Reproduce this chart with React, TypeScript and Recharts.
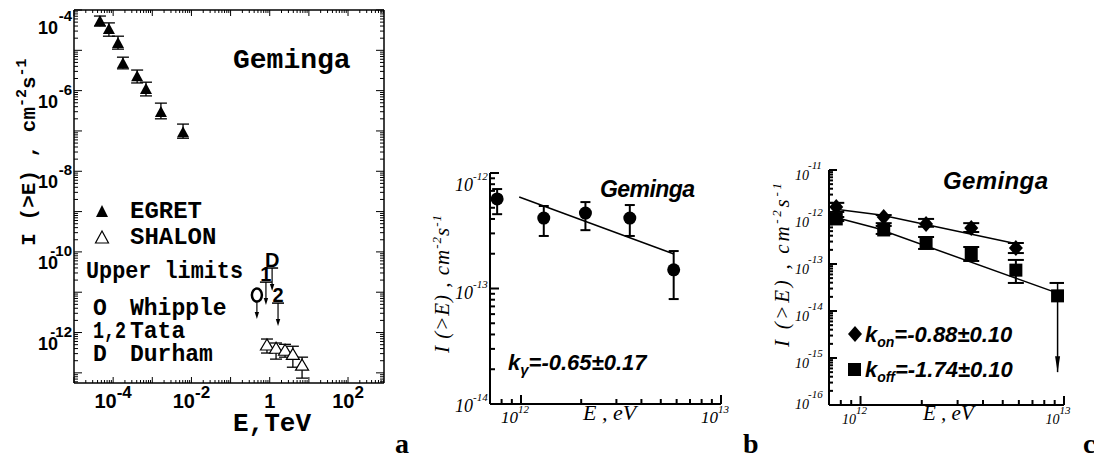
import React from "react";
import { ComposedChart, Scatter, XAxis, YAxis, ErrorBar } from "recharts";

// ---------- panel a (E in TeV) ----------
const egretE = [4.6e-5, 7.8e-5, 1.33e-4, 1.78e-4, 4.1e-4, 6.9e-4, 1.66e-3, 6.1e-3];
const egretI = [5.37e-5, 3.39e-5, 1.51e-5, 4.79e-6, 2.29e-6, 1.1e-6, 2.95e-7, 9.33e-8];
const egretHi = [7.08e-5, 4.79e-5, 2.24e-5, 6.76e-6, 3.24e-6, 1.62e-6, 4.9e-7, 1.48e-7];
const egretLo = [3.98e-5, 2.24e-5, 1.07e-5, 3.47e-6, 1.55e-6, 7.4e-7, 2.0e-7, 6.6e-8];

const shalonE = [0.85, 1.45, 2.46, 3.9, 6.7];
const shalonI = [4.9e-13, 4.07e-13, 3.63e-13, 2.88e-13, 1.55e-13];
const shalonHi = [6.9e-13, 5.5e-13, 5.1e-13, 4.57e-13, 2.45e-13];
const shalonLo = [3.1e-13, 2.19e-13, 2.45e-13, 1.38e-13, 7.4e-14];

const limitTags = ["O", "1", "D", "2"];
const limitE = [0.47, 0.8, 1.15, 1.63];
const limitI = [8.5e-12, 1.78e-11, 3.98e-11, 5.37e-12];

const aXDomain = [1e-5, 830];
const aYDomain = [5.6e-14, 1e-4];
const aXLabelled = [-4, -2, 0, 2];
const aYLabelled = [-4, -6, -8, -10, -12];

// ---------- panel b (E in eV) ----------
const bE = [7.6e11, 1.3e12, 2.1e12, 3.5e12, 5.8e12];
const bI = [5.96e-13, 4.07e-13, 4.5e-13, 4.07e-13, 1.45e-13];
const bHi = [7.26e-13, 5.18e-13, 5.6e-13, 5.28e-13, 2.11e-13];
const bLo = [4.4e-13, 2.85e-13, 3.2e-13, 2.85e-13, 8.1e-14];
const bFitE = [9.8e11, 5.77e12];
const bFitI = [6.2e-13, 2.0e-13];

const bXDomain = [7e11, 1e13];
const bYDomain = [1e-14, 1e-12];

// ---------- panel c ----------
const onE = [7.6e11, 1.3e12, 2.1e12, 3.5e12, 5.8e12];
const onI = [1.63e-12, 1.0e-12, 7.1e-13, 5.8e-13, 2.19e-13];
const onHi = [2.0e-12, 1.1e-12, 9.1e-13, 7.4e-13, 2.8e-13];
const onLo = [1.28e-12, 7.4e-13, 6.2e-13, 4.8e-13, 1.71e-13];

const offE = [7.6e11, 1.3e12, 2.1e12, 3.5e12, 5.8e12];
const offI = [9.1e-13, 5.3e-13, 2.8e-13, 1.63e-13, 7.4e-14];
const offHi = [1.0e-12, 6.45e-13, 3.75e-13, 2.3e-13, 1.22e-13];
const offLo = [8.2e-13, 4.36e-13, 2.09e-13, 1.16e-13, 3.95e-14];

const offLimitE = 9.3e12;
const offLimitI = 2.1e-14;
const offLimitCap = 3.95e-14;
const offLimitTip = 5e-16;

const onFitE = [7.4e11, 1.26e12, 5.6e12];
const onFitI = [1.48e-12, 1.1e-12, 2.8e-13];
const offFitE = [7.4e11, 1.19e12, 9.3e12];
const offFitI = [1.0e-12, 5.83e-13, 2.4e-14];

const cXDomain = [7e11, 1e13];
const cYDomain = [1e-16, 1e-11];

// ---------- helpers ----------
const withErr = (E: number[], I: number[], hi: number[], lo: number[]) =>
  E.map((e, i) => ({ E: e, I: I[i], err: [I[i] - lo[i], hi[i] - I[i]] }));
const pairs = (E: number[], I: number[]) => E.map((e, i) => ({ E: e, I: I[i] }));

const logTicks = (lo: number, hi: number) => {
  const out: number[] = [];
  for (let d = Math.floor(Math.log10(lo)); d <= Math.ceil(Math.log10(hi)); d++) {
    for (let m = 1; m <= 9; m++) {
      const v = m * Math.pow(10, d);
      if (v >= lo * 0.999 && v <= hi * 1.001) out.push(v);
    }
  }
  return out;
};
const isDecade = (v: number) => Math.abs(Math.log10(v) - Math.round(Math.log10(v))) < 1e-6;

type Side = "left" | "right" | "top" | "bottom";
type LabelFn = (e: number, x: number, y: number) => React.ReactNode;

const tickMark =
  (side: Side, major: number, minor: number, sw: number, label?: LabelFn) =>
  (p: any) => {
    const { x, y, payload } = p;
    const v = payload.value;
    const dec = isDecade(v);
    const len = dec ? major : minor;
    const dx = side === "left" ? len : side === "right" ? -len : 0;
    const dy = side === "bottom" ? -len : side === "top" ? len : 0;
    return (
      <g>
        <line x1={x} y1={y} x2={x + dx} y2={y + dy} stroke="#000" strokeWidth={sw} />
        {dec && label ? label(Math.round(Math.log10(v)), x, y) : null}
      </g>
    );
  };

const aXLabel: LabelFn = (e, x, y) =>
  aXLabelled.includes(e) ? (
    <text x={x} y={y + 25} textAnchor="middle" fontFamily="Liberation Sans" fontWeight="bold" fontSize={20} fill="#000">
      {e === 0 ? "1" : (
        <>
          10<tspan fontSize={17} dy={-10}>{`${e}`}</tspan>
        </>
      )}
    </text>
  ) : null;

const aYLabel: LabelFn = (e, x, y) => {
  if (!aYLabelled.includes(e)) return null;
  const s = e === -4 ? 7 : 0;
  return (
    <g fontFamily="Liberation Sans" fontWeight="bold" fill="#000">
      <text x={x - 36} y={y + 17 + s} fontSize={18}>10</text>
      <text x={x - 2} y={y + 4 + s} fontSize={15} textAnchor="end">{`${e}`}</text>
    </g>
  );
};

const serifX = (fs: number, fe: number): LabelFn => (e, x, y) => (
  <text x={x - 6} y={y + 19} textAnchor="middle" fontFamily="Liberation Serif" fontStyle="italic" fontSize={fs} fill="#000">
    10<tspan fontSize={fe} dy={-10}>{`${e}`}</tspan>
  </text>
);

const serifY =
  (fs: number, fe: number, x10: number, xExp: number, top: number, topShift: number, bottom: number, bottomShift: number): LabelFn =>
  (e, x, y) => {
    const s = e === top ? topShift : e === bottom ? bottomShift : 0;
    return (
      <g fontFamily="Liberation Serif" fontStyle="italic" fill="#000">
        <text x={x - x10} y={y + 10 + s} fontSize={fs}>10</text>
        <text x={x - xExp} y={y - 1 + s} fontSize={fe}>{`${e}`}</text>
      </g>
    );
  };

// ---------- shapes ----------
const TriFilled = (p: any) => (
  <polygon points={`${p.cx},${p.cy - 6} ${p.cx - 6},${p.cy + 5} ${p.cx + 6},${p.cy + 5}`} fill="#000" />
);
const TriOpen = (p: any) => (
  <polygon
    points={`${p.cx},${p.cy - 6} ${p.cx - 6.5},${p.cy + 5} ${p.cx + 6.5},${p.cy + 5}`}
    fill="#fff"
    stroke="#000"
    strokeWidth={1.2}
  />
);
const Dot = (p: any) => <circle cx={p.cx} cy={p.cy} r={6.5} fill="#000" />;
const Diamond = (p: any) => (
  <polygon points={`${p.cx},${p.cy - 8} ${p.cx + 7},${p.cy} ${p.cx},${p.cy + 8} ${p.cx - 7},${p.cy}`} fill="#000" />
);
const Square = (p: any) => <rect x={p.cx - 6.5} y={p.cy - 6.5} width={13} height={13} fill="#000" />;
const Nothing = () => <g />;

const arrowHead = (cx: number, tip: number, len: number, half: number) => (
  <path d={`M${cx - half},${tip - len} L${cx},${tip} L${cx + half},${tip - len} Z`} fill="#000" />
);

const LimitShape = (p: any) => {
  const { cx, cy, payload } = p;
  if (payload.tag === "O") {
    return (
      <g>
        <ellipse cx={cx} cy={cy} rx={5} ry={6.5} fill="none" stroke="#000" strokeWidth={2.5} />
        <line x1={cx} y1={cy + 7} x2={cx} y2={cy + 18} stroke="#000" strokeWidth={1.2} />
        {arrowHead(cx, cy + 24, 7, 2.2)}
      </g>
    );
  }
  return (
    <g>
      <text x={cx} y={cy - 1} textAnchor="middle" fontFamily="Liberation Sans" fontWeight="bold" fontSize={20} fill="#000">
        {payload.tag}
      </text>
      <line x1={cx - 6} y1={cy} x2={cx + 6} y2={cy} stroke="#000" strokeWidth={1.5} />
      <line x1={cx} y1={cy} x2={cx} y2={cy + 17} stroke="#000" strokeWidth={1.2} />
      {arrowHead(cx, cy + 23, 7, 2.2)}
    </g>
  );
};

const OffLimitShape = (p: any) => {
  const { cx, cy, payload } = p;
  if (payload.kind === "cap") {
    return <line x1={cx - 8} y1={cy} x2={cx + 8} y2={cy} stroke="#000" strokeWidth={2} />;
  }
  return arrowHead(cx, cy, 16, 2.5);
};

// ---------- data tables ----------
const egretData = withErr(egretE, egretI, egretHi, egretLo);
const shalonData = withErr(shalonE, shalonI, shalonHi, shalonLo);
const limitData = limitE.map((e, i) => ({ E: e, I: limitI[i], tag: limitTags[i] }));
const bData = withErr(bE, bI, bHi, bLo);
const bFit = pairs(bFitE, bFitI);
const onData = withErr(onE, onI, onHi, onLo);
const offData = withErr(offE, offI, offHi, offLo);
const onFit = pairs(onFitE, onFitI);
const offFit = pairs(offFitE, offFitI);
const offLimitPoint = [{ E: offLimitE, I: offLimitI }];
const offLimitArrow = [
  { E: offLimitE, I: offLimitCap, kind: "cap" },
  { E: offLimitE, I: offLimitTip, kind: "tip" },
];

const aXTicks = logTicks(aXDomain[0], aXDomain[1]);
const aYTicks = logTicks(aYDomain[0], aYDomain[1]);
const bXTicks = logTicks(bXDomain[0], bXDomain[1]);
const bYTicks = logTicks(bYDomain[0], bYDomain[1]);
const cXTicks = logTicks(cXDomain[0], cXDomain[1]);
const cYTicks = logTicks(cYDomain[0], cYDomain[1]);

const axisCommon = {
  type: "number" as const,
  scale: "log" as const,
  allowDataOverflow: true,
  interval: 0 as const,
  tickSize: 0,
  tickMargin: 0,
  tickLine: false,
};

function PanelA() {
  const axisLine = { stroke: "#000", strokeWidth: 1.5 };
  return (
    <ComposedChart width={400} height={440} margin={{ top: 2, right: 8, bottom: 0, left: 0 }}>
      <XAxis {...axisCommon} dataKey="E" domain={aXDomain} ticks={aXTicks} height={57} axisLine={axisLine}
        tick={tickMark("bottom", 6, 3, 1, aXLabel)} />
      <XAxis {...axisCommon} xAxisId="top" orientation="top" dataKey="E" domain={aXDomain} ticks={aXTicks} height={8}
        axisLine={axisLine} tick={tickMark("top", 6, 3, 1)} />
      <YAxis {...axisCommon} dataKey="I" domain={aYDomain} ticks={aYTicks} width={74} axisLine={axisLine}
        tick={tickMark("left", 8, 4, 1, aYLabel)} />
      <YAxis {...axisCommon} yAxisId="right" orientation="right" dataKey="I" domain={aYDomain} ticks={aYTicks} width={8}
        axisLine={axisLine} tick={tickMark("right", 8, 4, 1)} />
      {/* invisible series so the mirrored top / right axes of the frame are drawn */}
      <Scatter data={egretData} xAxisId="top" yAxisId="right" shape={Nothing} isAnimationActive={false} />
      <Scatter data={egretData} shape={TriFilled} isAnimationActive={false}>
        <ErrorBar dataKey="err" direction="y" width={6} stroke="#000" strokeWidth={1.3} isAnimationActive={false} />
      </Scatter>
      <Scatter data={shalonData} shape={TriOpen} isAnimationActive={false}>
        <ErrorBar dataKey="err" direction="y" width={6} stroke="#000" strokeWidth={1.3} isAnimationActive={false} />
      </Scatter>
      <Scatter data={limitData} shape={LimitShape} isAnimationActive={false} />
    </ComposedChart>
  );
}

function PanelB() {
  const axisLine = { stroke: "#000", strokeWidth: 2 };
  return (
    <ComposedChart width={310} height={290} margin={{ top: 23, right: 19, bottom: 0, left: 0 }}>
      <XAxis {...axisCommon} dataKey="E" domain={bXDomain} ticks={bXTicks} height={36} axisLine={axisLine}
        tick={tickMark("bottom", 9, 5, 2, serifX(17, 11))} />
      <YAxis {...axisCommon} dataKey="I" domain={bYDomain} ticks={bYTicks} width={60} axisLine={axisLine}
        tick={tickMark("left", 9, 5, 2, serifY(18, 11, 35, 17, -12, 8, -14, -2))} />
      <Scatter data={bFit} line={{ stroke: "#000", strokeWidth: 1.5 }} shape={Nothing} isAnimationActive={false} />
      <Scatter data={bData} shape={Dot} isAnimationActive={false}>
        <ErrorBar dataKey="err" direction="y" width={5} stroke="#000" strokeWidth={2} isAnimationActive={false} />
      </Scatter>
    </ComposedChart>
  );
}

function PanelC() {
  const axisLine = { stroke: "#000", strokeWidth: 2 };
  return (
    <ComposedChart width={310} height={290} margin={{ top: 20, right: 16, bottom: 0, left: 0 }}>
      <XAxis {...axisCommon} dataKey="E" domain={cXDomain} ticks={cXTicks} height={35} axisLine={axisLine}
        tick={tickMark("bottom", 9, 5, 2, serifX(14, 11))} />
      <YAxis {...axisCommon} dataKey="I" domain={cYDomain} ticks={cYTicks} width={59} axisLine={axisLine}
        tick={tickMark("left", 8, 4, 2, serifY(14, 11, 34, 21, -11, 0, -16, -6))} />
      <Scatter data={onFit} line={{ stroke: "#000", strokeWidth: 1.5 }} shape={Nothing} isAnimationActive={false} />
      <Scatter data={offFit} line={{ stroke: "#000", strokeWidth: 1.5 }} shape={Nothing} isAnimationActive={false} />
      <Scatter data={offLimitArrow} line={{ stroke: "#000", strokeWidth: 1.5 }} shape={OffLimitShape} isAnimationActive={false} />
      <Scatter data={onData} shape={Diamond} isAnimationActive={false}>
        <ErrorBar dataKey="err" direction="y" width={8} stroke="#000" strokeWidth={2} isAnimationActive={false} />
      </Scatter>
      <Scatter data={offData} shape={Square} isAnimationActive={false}>
        <ErrorBar dataKey="err" direction="y" width={8} stroke="#000" strokeWidth={2} isAnimationActive={false} />
      </Scatter>
      <Scatter data={offLimitPoint} shape={Square} isAnimationActive={false} />
    </ComposedChart>
  );
}

export default function App() {
  const mono = { fontFamily: "Liberation Mono", fontWeight: "bold" as const };
  const serifIt = { fontFamily: "Liberation Serif", fontStyle: "italic" as const };
  const sansBI = { fontFamily: "Liberation Sans", fontWeight: "bold" as const, fontStyle: "italic" as const };
  return (
    <div style={{ position: "absolute", left: 0, top: 0, width: 1094, height: 464, background: "#fff", overflow: "hidden" }}>
      <div style={{ position: "absolute", left: 0, top: 0 }}>
        <PanelA />
      </div>
      <div style={{ position: "absolute", left: 430, top: 150 }}>
        <PanelB />
      </div>
      <div style={{ position: "absolute", left: 770, top: 150 }}>
        <PanelC />
      </div>
      <svg width={1094} height={464} style={{ position: "absolute", left: 0, top: 0, pointerEvents: "none" }}>
        {/* panel a texts */}
        <g {...mono} fill="#000">
          <text x={233} y={68} fontSize={28}>Geminga</text>
          <polygon points="102,205 96,217 108,217" fill="#000" />
          <text x={130} y={218} fontSize={24}>EGRET</text>
          <polygon points="102,231 95.5,243 108.5,243" fill="#fff" stroke="#000" strokeWidth={1.2} />
          <text x={130} y={244} fontSize={24}>SHALON</text>
          <text x={86} y={278} fontSize={24} textLength={157} lengthAdjust="spacingAndGlyphs">Upper limits</text>
          <text x={100} y={315} fontSize={23} textAnchor="middle">O</text>
          <text x={130} y={315} fontSize={23}>Whipple</text>
          <text x={93} y={338} fontSize={23} textLength={33} lengthAdjust="spacingAndGlyphs">1,2</text>
          <text x={130} y={338} fontSize={23}>Tata</text>
          <text x={100} y={361} fontSize={23} textAnchor="middle">D</text>
          <text x={130} y={361} fontSize={23}>Durham</text>
          <text x={272} y={431} fontSize={26} textAnchor="middle">E,TeV</text>
          <text transform="translate(35,152) rotate(-90)" fontSize={21} textAnchor="middle">
            I (&gt;E) , cm<tspan fontSize={15} dy={-9}>-2</tspan>
            <tspan dy={9}>s</tspan>
            <tspan fontSize={15} dy={-9}>-1</tspan>
          </text>
        </g>
        {/* panel b texts */}
        <text x={600} y={197} {...sansBI} fontSize={23} textLength={95}>Geminga</text>
        <text x={508} y={370} {...sansBI} fontSize={22}>
          k<tspan fontSize={15} dy={5}>γ</tspan>
          <tspan dy={-5}>=-0.65±0.17</tspan>
        </text>
        <text x={583} y={420} {...serifIt} fontSize={22}>E , eV</text>
        <text transform="translate(449,284) rotate(-90)" {...serifIt} fontSize={21} textAnchor="middle" textLength={138}>
          I (&gt;E) , cm<tspan fontSize={13} dy={-8}>-2</tspan>
          <tspan dy={8}>s</tspan>
          <tspan fontSize={13} dy={-8}>-1</tspan>
        </text>
        {/* panel c texts */}
        <text x={943} y={189} {...sansBI} fontSize={24} textLength={105}>Geminga</text>
        <polygon points="855,326 862,334 855,342 848,334" fill="#000" />
        <text x={865} y={342} {...sansBI} fontSize={22}>
          k<tspan fontSize={14} dy={5}>on</tspan>
          <tspan dy={-5}>=-0.88±0.10</tspan>
        </text>
        <rect x={848} y={363} width={13} height={13} fill="#000" />
        <text x={865} y={377} {...sansBI} fontSize={22}>
          k<tspan fontSize={14} dy={5}>off</tspan>
          <tspan dy={-5}>=-1.74±0.10</tspan>
        </text>
        <text x={923} y={420} {...serifIt} fontSize={21}>E , eV</text>
        <text transform="translate(789,265) rotate(-90)" {...serifIt} fontSize={21} textAnchor="middle" textLength={164}>
          I (&gt;E) , cm<tspan fontSize={13} dy={-8}>-2</tspan>
          <tspan dy={8}>s</tspan>
          <tspan fontSize={13} dy={-8}>-1</tspan>
        </text>
        {/* panel letters */}
        <g fontFamily="Liberation Serif" fontWeight="bold" fontSize={28} fill="#000">
          <text x={395} y={453}>a</text>
          <text x={743} y={453}>b</text>
          <text x={1083} y={453}>c</text>
        </g>
      </svg>
    </div>
  );
}
